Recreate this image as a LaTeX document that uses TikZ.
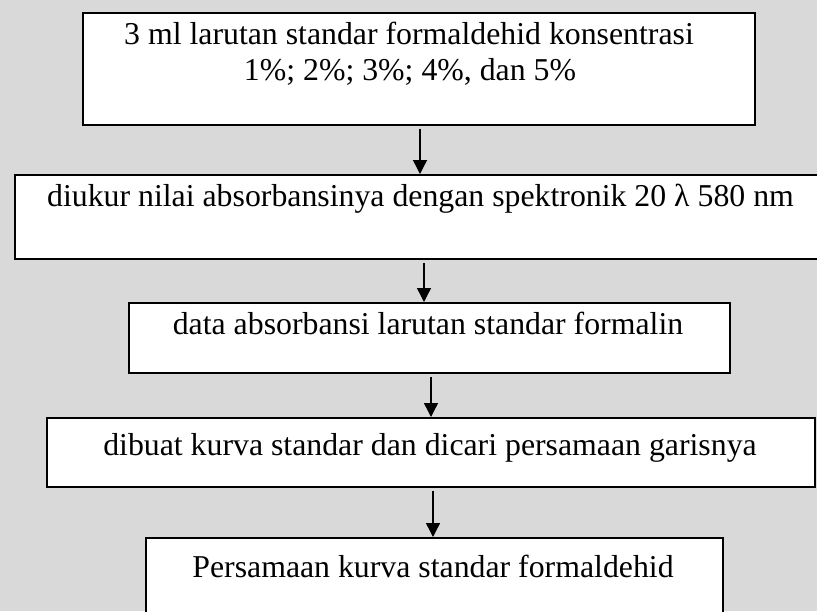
\documentclass[tikz,border=0pt]{standalone}
\usepackage{fontspec}
\setmainfont{Liberation Serif}
\usetikzlibrary{arrows.meta}
\definecolor{bggray}{HTML}{D9D9D9}
\begin{document}
\begin{tikzpicture}[x=1pt,y=-1pt,
  box/.style={draw=black, line width=1.8pt, fill=white, inner sep=0pt, anchor=north west},
  txt/.style={font=\fontsize{31.8}{37}\selectfont, inner sep=0pt, anchor=base},
  flow/.style={line width=1.4pt, -{Triangle[length=14pt,width=14pt]}, shorten <=3pt}]
\fill[bggray] (0,0) rectangle (817,611);
\useasboundingbox (0,0) rectangle (817,611);
% boxes
\node[box, minimum width=672pt, minimum height=112pt] (b1) at (82,12) {};
\node[box, minimum width=820pt, minimum height=84pt] (b2) at (14,174) {};
\node[box, minimum width=601pt, minimum height=70pt] (b3) at (128,302) {};
\node[box, minimum width=768pt, minimum height=69pt] (b4) at (46,417) {};
\node[box, minimum width=577pt, minimum height=80pt] (b5) at (145,537) {};
% texts
\node[txt] (t1a) at (409,44) {3 ml larutan standar formaldehid konsentrasi};
\node[txt] (t1b) at (410,80) {1\%; 2\%; 3\%; 4\%, dan 5\%};
\node[txt] (t2) at (420.5,206) {diukur nilai absorbansinya dengan spektronik 20 λ 580 nm};
\node[txt] (t3) at (428,334) {data absorbansi larutan standar formalin};
\node[txt] (t4) at (430,455) {dibuat kurva standar dan dicari persamaan garisnya};
\node[txt] (t5) at (433,577) {Persamaan kurva standar formaldehid};
% arrows
\draw[flow] (b1.south -| 420,0) -- (b2.north -| 420,0);
\draw[flow] (b2.south -| 424,0) -- (b3.north -| 424,0);
\draw[flow] (b3.south -| 431,0) -- (b4.north -| 431,0);
\draw[flow] (b4.south -| 433,0) -- (b5.north -| 433,0);
\end{tikzpicture}
\end{document}
